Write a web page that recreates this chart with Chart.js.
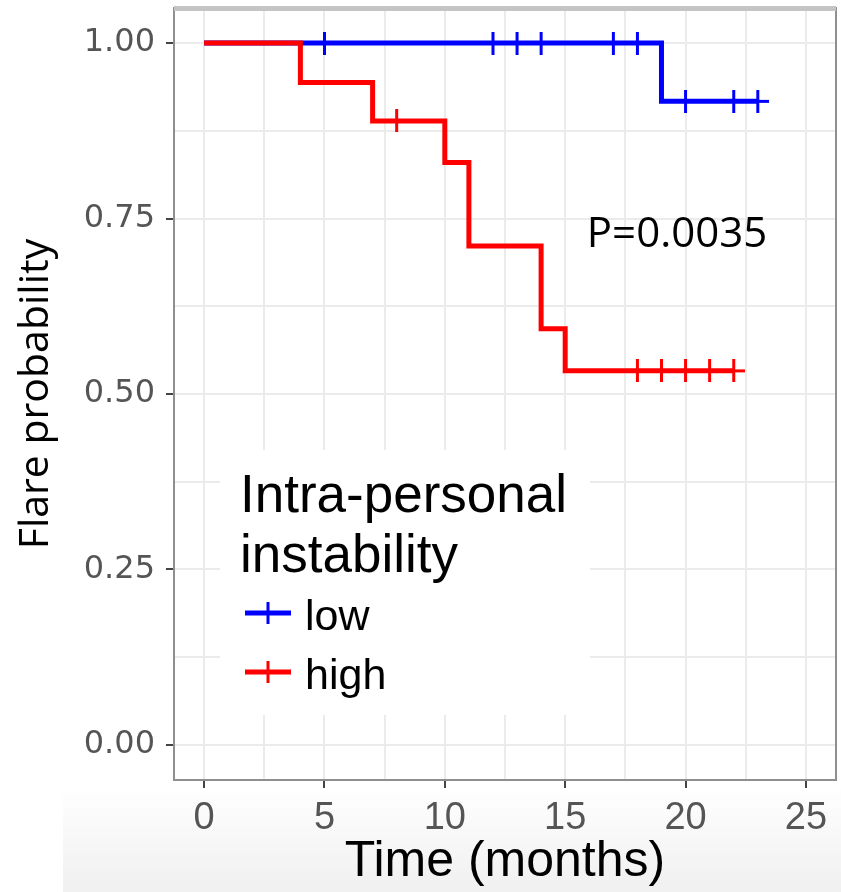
<!DOCTYPE html>
<html>
<head>
<meta charset="utf-8">
<script src="https://cdn.jsdelivr.net/npm/chart.js@4.4.1/dist/chart.umd.min.js"></script>
<style>
html,body{margin:0;padding:0;background:#fff;}
#wrap{width:841px;height:892px;position:relative;}
</style>
</head>
<body>
<div id="wrap"><canvas id="c" width="841" height="892"></canvas></div>
<script>
// ---------- data ----------
const seriesNames = ['low', 'high'];
const seriesColors = ['#0000ff', '#ff0000'];

const lowTimes = [0, 19, 23];
const lowSurv = [1.0, 0.917, 0.917];
const lowCensorTimes = [5, 12, 13, 14, 17, 18, 20, 22, 23];
const lowCensorSurv = [1.0, 1.0, 1.0, 1.0, 1.0, 1.0, 0.917, 0.917, 0.917];

const highTimes = [0, 4, 7, 10, 11, 14, 15, 22];
const highSurv = [1.0, 0.944, 0.889, 0.830, 0.711, 0.593, 0.533, 0.533];
const highCensorTimes = [8, 18, 19, 20, 21, 22];
const highCensorSurv = [0.889, 0.533, 0.533, 0.533, 0.533, 0.533];

const xTickValues = [0, 2.5, 5, 7.5, 10, 12.5, 15, 17.5, 20, 22.5, 25];
const xTickLabels = ['0', '', '5', '', '10', '', '15', '', '20', '', '25'];
const yTickValues = [0, 0.125, 0.25, 0.375, 0.5, 0.625, 0.75, 0.875, 1.0];
const yTickLabels = ['0.00', '', '0.25', '', '0.50', '', '0.75', '', '1.00'];

const xTitle = 'Time (months)';
const yTitle = 'Flare probability';
const legendTitle = ['Intra-personal', 'instability'];
const pValueText = 'P=0.0035';
const pValuePos = {x: 15.9, y: 0.709};

// ---------- helpers ----------
const pts = (xs, ys) => xs.map((x, i) => ({x: x, y: ys[i]}));

function makeCross(color) {
  const c = document.createElement('canvas');
  c.width = 23; c.height = 23;
  const g = c.getContext('2d');
  g.strokeStyle = color;
  g.lineWidth = 3;
  g.beginPath();
  g.moveTo(11.5, 0); g.lineTo(11.5, 23);
  g.moveTo(0, 11.5); g.lineTo(23, 11.5);
  g.stroke();
  return c;
}

const bgPlugin = {
  id: 'bg',
  beforeDraw(chart) {
    const ctx = chart.ctx;
    ctx.save();
    ctx.fillStyle = '#ffffff';
    ctx.fillRect(0, 0, chart.width, chart.height);
    const g = ctx.createLinearGradient(0, 785, 0, chart.height);
    g.addColorStop(0, 'rgba(240,240,240,0)');
    g.addColorStop(1, 'rgba(240,240,240,1)');
    ctx.fillStyle = g;
    ctx.fillRect(63, 785, chart.width - 63, chart.height - 785);
    ctx.restore();
  }
};

const legendBgPlugin = {
  id: 'legendBg',
  beforeDatasetsDraw(chart) {
    const ctx = chart.ctx, a = chart.chartArea;
    ctx.save();
    ctx.fillStyle = '#ffffff';
    ctx.fillRect(a.left + 46, a.top + 442, 370, 265);
    ctx.restore();
  }
};

const overlayPlugin = {
  id: 'overlay',
  afterDraw(chart) {
    const ctx = chart.ctx, a = chart.chartArea;
    const xs = chart.scales.x, ys = chart.scales.y;
    ctx.save();
    // panel border
    ctx.strokeStyle = '#8f8f8f';
    ctx.lineWidth = 2;
    ctx.strokeRect(a.left, a.top, a.right - a.left, a.bottom - a.top);
    ctx.fillStyle = '#c4c4c4';
    ctx.fillRect(a.left, a.top - 2, a.right - a.left, 5);

    // p-value text
    ctx.fillStyle = '#000000';
    ctx.font = '42px "Open Sans", "Liberation Sans", sans-serif';
    ctx.textAlign = 'left';
    ctx.textBaseline = 'alphabetic';
    ctx.fillText(pValueText, xs.getPixelForValue(pValuePos.x), ys.getPixelForValue(pValuePos.y));

    // legend
    const lx = a.left + 66;
    ctx.fillStyle = '#000000';
    ctx.font = '53px "Liberation Sans", Arial, sans-serif';
    ctx.fillText(legendTitle[0], lx, a.top + 504);
    ctx.fillText(legendTitle[1], lx, a.top + 564);
    const keyY = [a.top + 605, a.top + 664];
    ctx.font = '43px "Liberation Sans", Arial, sans-serif';
    for (let i = 0; i < seriesNames.length; i++) {
      const y = keyY[i];
      ctx.strokeStyle = seriesColors[i];
      ctx.lineWidth = 5;
      ctx.beginPath();
      ctx.moveTo(a.left + 71, y);
      ctx.lineTo(a.left + 117, y);
      ctx.stroke();
      ctx.lineWidth = 3;
      ctx.beginPath();
      ctx.moveTo(a.left + 94, y - 11);
      ctx.lineTo(a.left + 94, y + 11);
      ctx.stroke();
      ctx.fillStyle = '#000000';
      ctx.fillText(seriesNames[i], a.left + 131, y + 17);
    }
    ctx.restore();
  }
};

const lineDs = (label, xs, ys, color, order) => ({
  label: label, data: pts(xs, ys), showLine: true, stepped: 'before',
  borderColor: color, borderWidth: 5, pointRadius: 0, pointHoverRadius: 0, pointBorderWidth: 0,
  fill: false, order: order
});
const censorDs = (label, xs, ys, color, order) => ({
  label: label, data: pts(xs, ys), showLine: false, pointStyle: makeCross(color),
  pointRadius: 0.5, pointHoverRadius: 0, pointBorderWidth: 0,
  borderColor: color, backgroundColor: color, order: order
});

new Chart(document.getElementById('c'), {
  type: 'scatter',
  data: {
    datasets: [
      lineDs(seriesNames[1], highTimes, highSurv, seriesColors[1], 0),
      censorDs(seriesNames[1] + ' censored', highCensorTimes, highCensorSurv, seriesColors[1], 0),
      lineDs(seriesNames[0], lowTimes, lowSurv, seriesColors[0], 1),
      censorDs(seriesNames[0] + ' censored', lowCensorTimes, lowCensorSurv, seriesColors[0], 1)
    ]
  },
  options: {
    responsive: false,
    animation: false,
    devicePixelRatio: 1,
    layout: {padding: {top: 8, right: 5, left: 0, bottom: 0}},
    plugins: {legend: {display: false}, tooltip: {enabled: false}},
    scales: {
      x: {
        type: 'linear', min: -1.25, max: 26.25,
        afterBuildTicks(s) { s.ticks = xTickValues.map(v => ({value: v})); },
        afterFit(s) { s.height = 112; s.paddingLeft = 0; s.paddingRight = 0; s.paddingTop = 0; s.paddingBottom = 0; },
        ticks: {
          autoSkip: false, maxRotation: 0, padding: 8, color: '#555555',
          font: {family: '"Liberation Sans Narrow", "Liberation Sans", sans-serif', size: 38},
          callback: (v, i) => xTickLabels[i]
        },
        grid: {
          color: '#ebebeb', lineWidth: 2, tickLength: 8, tickWidth: 2,
          tickColor: c => (xTickLabels[c.index] ? '#444444' : 'rgba(0,0,0,0)')
        },
        border: {display: false},
        title: {
          display: true, text: xTitle, color: '#000000',
          font: {family: '"Liberation Sans", Arial, sans-serif', size: 50},
          padding: {top: 0, bottom: 0}
        }
      },
      y: {
        type: 'linear', min: -0.05, max: 1.05,
        afterBuildTicks(s) { s.ticks = yTickValues.map(v => ({value: v})); },
        afterFit(s) { s.width = 174; s.paddingLeft = 0; s.paddingRight = 0; s.paddingTop = 0; s.paddingBottom = 0; },
        ticks: {
          autoSkip: false, padding: 11, color: '#555555',
          font: {family: '"DejaVu Sans", sans-serif', size: 32},
          callback: (v, i) => yTickLabels[i]
        },
        grid: {
          color: '#ebebeb', lineWidth: 2, tickLength: 8, tickWidth: 2,
          tickColor: c => (yTickLabels[c.index] ? '#444444' : 'rgba(0,0,0,0)')
        },
        border: {display: false},
        title: {
          display: true, text: yTitle, color: '#000000',
          font: {family: '"Open Sans", "Liberation Sans", sans-serif', size: 41},
          padding: {top: 12, bottom: 0}
        }
      }
    }
  },
  plugins: [bgPlugin, legendBgPlugin, overlayPlugin]
});
</script>
</body>
</html>
